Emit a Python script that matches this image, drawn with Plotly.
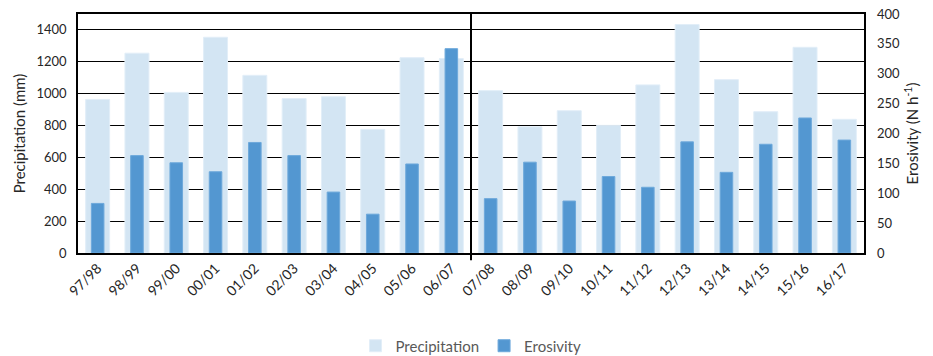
import plotly.graph_objects as go

seasons = ["97/98", "98/99", "99/00", "00/01", "01/02", "02/03", "03/04", "04/05", "05/06", "06/07",
           "07/08", "08/09", "09/10", "10/11", "11/12", "12/13", "13/14", "14/15", "15/16", "16/17"]
precipitation = [964, 1254, 1008, 1354, 1115, 969, 981, 776, 1226, 1220,
                 1019, 792, 893, 801, 1055, 1434, 1088, 887, 1291, 839]
erosivity = [83, 163, 151, 136, 185, 163, 102, 65, 149, 342,
             91, 152, 87, 128, 110, 186, 135, 182, 226, 189]

FONT = "Lato"
TXT = "#262626"

fig = go.Figure()
fig.add_trace(go.Bar(
    x=seasons, y=precipitation, name="Precipitation", width=0.61,
    marker=dict(color="#D3E5F3", line=dict(color="#E2EEF8", width=1)),
    yaxis="y"))
fig.add_trace(go.Bar(
    x=seasons, y=erosivity, name="Erosivity", width=0.32,
    marker=dict(color="#5397D1", line=dict(color="#6EA9DB", width=1)),
    yaxis="y2"))

fig.add_shape(type="line", xref="x", yref="paper", x0=9.5, x1=9.5, y0=-0.03, y1=1,
              line=dict(color="black", width=2))

fig.update_layout(
    width=933, height=356,
    margin=dict(l=78, r=69, t=14, b=103, autoexpand=False),
    paper_bgcolor="white", plot_bgcolor="white",
    barmode="overlay",
    font=dict(family=FONT, size=13, color=TXT),
    xaxis=dict(type="category", tickangle=-45, tickfont=dict(size=14, color=TXT),
               showline=True, linecolor="black", linewidth=1.5, mirror=True,
               ticks="", showgrid=False, range=[-0.5, 19.5], automargin=False),
    yaxis=dict(range=[0, 1500], tickvals=[0, 200, 400, 600, 800, 1000, 1200, 1400],
               showgrid=True, gridcolor="black", gridwidth=1.2,
               showline=True, linecolor="black", linewidth=1.5, mirror=True,
               zeroline=False, ticks="", automargin=False, ticklabelstandoff=7,
               ticklabeloverflow="allow",
               title=dict(text="Precipitation (mm)", font=dict(size=15, color=TXT), standoff=7),
               tickfont=dict(size=13, color=TXT)),
    yaxis2=dict(range=[0, 400], tickvals=[0, 50, 100, 150, 200, 250, 300, 350, 400],
                overlaying="y", side="right", showgrid=False, zeroline=False, ticks="",
                automargin=False, ticklabelstandoff=12, ticklabeloverflow="allow",
                title=dict(text="Erosivity (N h<sup>-1</sup>)", font=dict(size=15, color=TXT), standoff=8),
                tickfont=dict(size=13, color=TXT)),
    legend=dict(orientation="h", x=0.5, xanchor="center", y=-0.32, yanchor="top",
                font=dict(size=15, color="#595959"), traceorder="normal"),
    showlegend=True,
)

fig.write_html("out.html", config={"displayModeBar": False},
               post_script="document.body.style.margin='0';")
